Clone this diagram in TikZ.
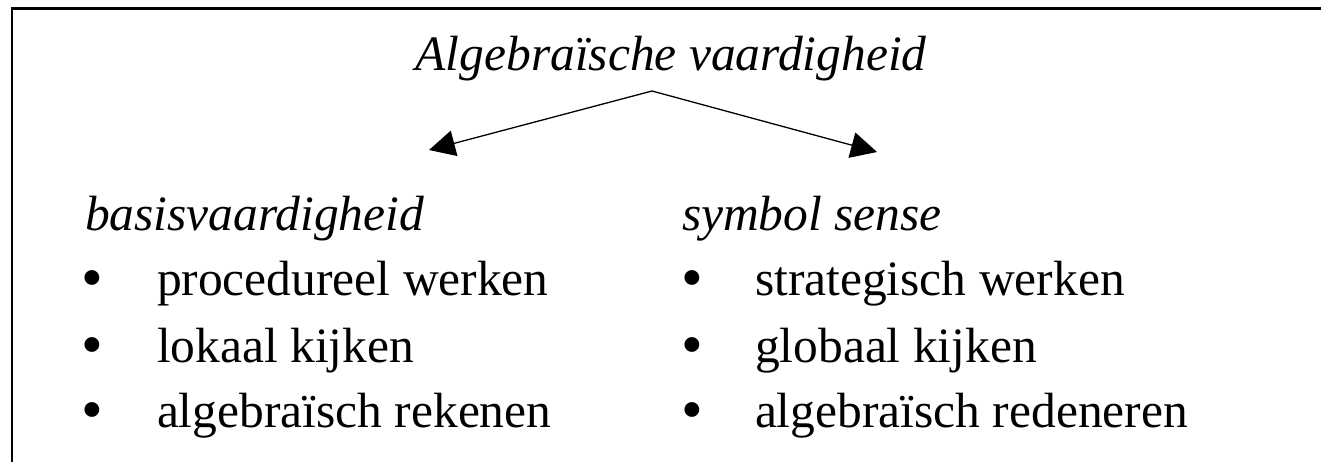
\documentclass[tikz,border=0pt]{standalone}
\usepackage{fontspec}
\setmainfont{Liberation Serif}
\usetikzlibrary{arrows.meta}
\tikzset{
  txt/.style={inner sep=0pt, outer sep=0pt, font=\fontsize{49.5}{59}\selectfont},
  head/.style={txt, font=\fontsize{49.5}{59}\selectfont\itshape},
  itemtext/.style={txt, anchor=base west},
  dot/.style={txt, anchor=base, font=\fontsize{62}{70}\selectfont, yshift=-3.5pt},
  link/.style={line width=1.3pt, -{Triangle[length=26pt,width=26pt]}},
  frame/.style={line width=2.5pt, line cap=rect}
}
\begin{document}
\begin{tikzpicture}[x=1pt,y=-1pt]
  \useasboundingbox (0,0) rectangle (1321,461);
  % open frame: top and left edge
  \draw[frame] (12,461) -- (12,8.5) -- (1321,8.5);

  % title and branches
  \node[head, anchor=base] (title) at (671,70) {Algebraïsche vaardigheid};
  \coordinate (apex) at (652,91);
  \coordinate (ltip) at (429,150);
  \coordinate (rtip) at (877,152);
  \draw[link] (apex) -- (ltip);
  \draw[link] (apex) -- (rtip);

  % left column
  \node[head, anchor=base west] (basis) at (85,230) {basisvaardigheid};
  \node[dot] (b1) at (92,295) {•};
  \node[dot] (b2) at (92,362) {•};
  \node[dot] (b3) at (92,427) {•};
  \node[itemtext] (l1) at (157,295) {procedureel werken};
  \node[itemtext] (l2) at (157,362) {lokaal kijken};
  \node[itemtext] (l3) at (157,427) {algebraïsch rekenen};

  % right column
  \node[head, anchor=base west] (symb) at (682,230) {symbol sense};
  \node[dot] (c1) at (692,295) {•};
  \node[dot] (c2) at (692,362) {•};
  \node[dot] (c3) at (692,427) {•};
  \node[itemtext] (r1) at (755,295) {strategisch werken};
  \node[itemtext] (r2) at (755,362) {globaal kijken};
  \node[itemtext] (r3) at (755,427) {algebraïsch redeneren};
\end{tikzpicture}
\end{document}
